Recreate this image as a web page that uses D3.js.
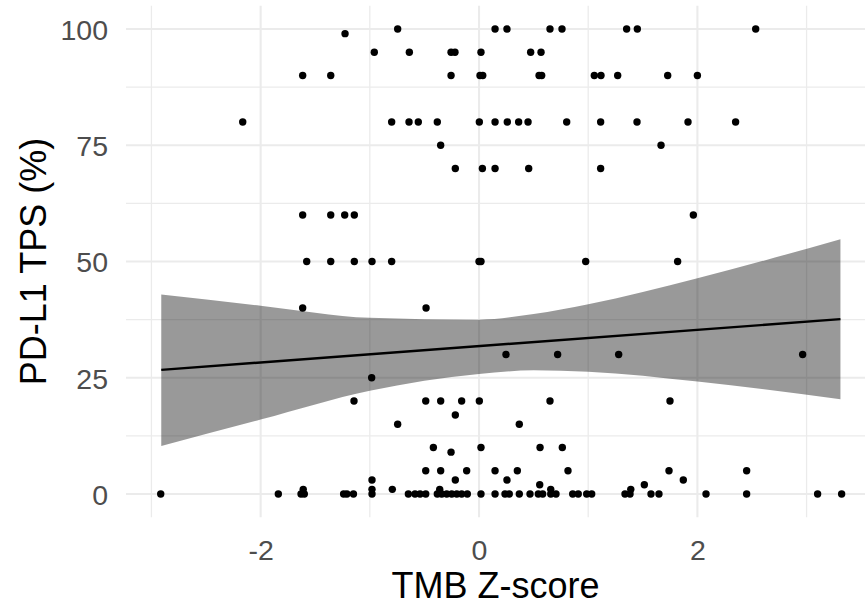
<!DOCTYPE html>
<html>
<head>
<meta charset="utf-8">
<script src="https://cdn.jsdelivr.net/npm/d3@7"></script>
<style>
  html, body { margin: 0; padding: 0; background: #ffffff; }
  svg { display: block; font-family: "Liberation Sans", Arial, sans-serif; }
</style>
</head>
<body>
<svg id="chart" width="865" height="610"></svg>
<script>
// PD-L1 tumour proportion score levels and the TMB Z-scores of the samples at each level
const tpsLevels = [100, 99, 95, 90, 80, 75, 70, 60, 50, 40, 30, 25, 20, 17, 15, 10, 9, 5, 3, 2, 1, 0];
const tmbByLevel = [
  [-0.745, 0.147, 0.256, 0.65, 0.76, 1.352, 1.45, 2.534],
  [-1.227],
  [-0.959, -0.638, -0.256, -0.22, 0.018, 0.473, 0.568],
  [-1.615, -1.358, -0.256, 0.009, 0.034, 0.55, 0.574, 1.056, 1.117, 1.27, 1.728, 2.0],
  [-2.164, -0.80, -0.641, -0.556, -0.382, 0.003, 0.147, 0.259, 0.363, 0.449, 0.803, 1.114, 1.447, 1.914, 2.35],
  [-0.351, 1.667],
  [-0.217, 0.031, 0.147, 0.455, 1.114],
  [-1.615, -1.358, -1.23, -1.142, 1.963],
  [-1.578, -1.358, -1.142, -0.98, -0.80, 0.0, 0.018, 0.977, 1.819],
  [-1.615, -0.485],
  [0.247, 0.72, 1.279, 2.964],
  [-0.983],
  [-1.145, -0.488, -0.351, -0.159, 0.003, 0.65, 1.749],
  [-0.217],
  [-0.745, 0.369],
  [-0.418, 0.018, 0.559, 0.763],
  [-0.256],
  [-0.488, -0.351, -0.113, 0.147, 0.351, 0.815, 1.74, 2.451],
  [-0.98, -0.217, 0.256, 1.871],
  [0.556, 1.514],
  [-1.61, -0.98, -0.794, -0.36, 0.657, 1.39],
  [-2.915, -1.838, -1.63, -1.60, -1.24, -1.21, -1.15, -0.98, -0.647, -0.586, -0.540, -0.488,
   -0.382, -0.342, -0.296, -0.25, -0.204, -0.159, -0.107, 0.018, 0.147, 0.238, 0.277, 0.369,
   0.467, 0.543, 0.583, 0.657, 0.705, 0.858, 0.909, 0.986, 1.032, 1.337, 1.383, 1.575, 1.648,
   2.079, 2.451, 3.101, 3.321]
];

// Linear fit and its 95% confidence band
const fitX = [-2.91, 3.31];
const fitY = [26.7, 37.6];
const bandX = [-2.91, -2, -1, 0, 0.5, 1, 2, 3.31];
const bandHi = [42.9, 40.5, 37.9, 37.5, 38.7, 40.8, 46.4, 54.8];
const bandLo = [10.3, 16.0, 22.2, 25.8, 26.6, 26.3, 24.2, 20.4];

// Axis ticks
const xMajor = [-2, 0, 2];
const xMinor = [-3, -1, 1, 3];
const xTickLabels = ["-2", "0", "2"];
const yMajor = [0, 25, 50, 75, 100];
const yMinor = [12.5, 37.5, 62.5, 87.5];
const yTickLabels = ["0", "25", "50", "75", "100"];

const svg = d3.select("#chart");
const panel = { left: 126, right: 865, top: 5.75, bottom: 517.25 };

const x = d3.scaleLinear().domain([-3.233, 3.535]).range([panel.left, panel.right]);
const y = d3.scaleLinear().domain([-5, 105]).range([panel.bottom, panel.top]);

const points = [];
tpsLevels.forEach((lvl, i) => tmbByLevel[i].forEach(t => points.push({ tmb: t, tps: lvl })));

// Grid
const grid = svg.append("g");
grid.selectAll("line.xmin").data(xMinor).join("line")
  .attr("x1", d => x(d)).attr("x2", d => x(d))
  .attr("y1", panel.top).attr("y2", panel.bottom)
  .attr("stroke", "#ebebeb").attr("stroke-width", 1.3);
grid.selectAll("line.ymin").data(yMinor).join("line")
  .attr("y1", d => y(d)).attr("y2", d => y(d))
  .attr("x1", panel.left).attr("x2", panel.right)
  .attr("stroke", "#ebebeb").attr("stroke-width", 1.3);
grid.selectAll("line.xmaj").data(xMajor).join("line")
  .attr("x1", d => x(d)).attr("x2", d => x(d))
  .attr("y1", panel.top).attr("y2", panel.bottom)
  .attr("stroke", "#ebebeb").attr("stroke-width", 2.1);
grid.selectAll("line.ymaj").data(yMajor).join("line")
  .attr("y1", d => y(d)).attr("y2", d => y(d))
  .attr("x1", panel.left).attr("x2", panel.right)
  .attr("stroke", "#ebebeb").attr("stroke-width", 2.1);

// Points
svg.append("g").selectAll("circle").data(points).join("circle")
  .attr("cx", d => x(d.tmb)).attr("cy", d => y(d.tps))
  .attr("r", 3.7).attr("fill", "#000000");

// Confidence band
const bandData = bandX.map((v, i) => ({ x: v, lo: bandLo[i], hi: bandHi[i] }));
svg.append("path").datum(bandData)
  .attr("d", d3.area().curve(d3.curveMonotoneX)
    .x(d => x(d.x)).y0(d => y(d.lo)).y1(d => y(d.hi)))
  .attr("fill", "#000000").attr("fill-opacity", 0.4);

// Fitted line
svg.append("path").datum(fitX.map((v, i) => ({ x: v, y: fitY[i] })))
  .attr("d", d3.line().x(d => x(d.x)).y(d => y(d.y)))
  .attr("fill", "none").attr("stroke", "#000000").attr("stroke-width", 2.4);

// Axes (text only, as in a minimal theme)
const xAxis = d3.axisBottom(x).tickValues(xMajor).tickSize(0).tickPadding(0)
  .tickFormat((d, i) => xTickLabels[i]);
const gx = svg.append("g").attr("transform", `translate(0,${panel.bottom})`).call(xAxis);
gx.select(".domain").remove();
gx.selectAll("text").attr("y", 43).attr("dy", 0)
  .attr("font-size", 28.5).attr("fill", "#4d4d4d").attr("font-family", null);

const yAxis = d3.axisLeft(y).tickValues(yMajor).tickSize(0).tickPadding(0)
  .tickFormat((d, i) => yTickLabels[i]);
const gy = svg.append("g").attr("transform", `translate(108,0)`).call(yAxis);
gy.select(".domain").remove();
gy.selectAll("text").attr("x", 0).attr("dy", "0.36em")
  .attr("font-size", 28.5).attr("fill", "#4d4d4d").attr("font-family", null);

// Axis titles
svg.append("text")
  .attr("x", (panel.left + panel.right) / 2).attr("y", 598)
  .attr("text-anchor", "middle").attr("font-size", 36).attr("fill", "#000000")
  .text("TMB Z-score");
svg.append("text")
  .attr("transform", `translate(46,${(panel.top + panel.bottom) / 2}) rotate(-90)`)
  .attr("text-anchor", "middle").attr("font-size", 36).attr("fill", "#000000")
  .text("PD-L1 TPS (%)");
</script>
</body>
</html>
